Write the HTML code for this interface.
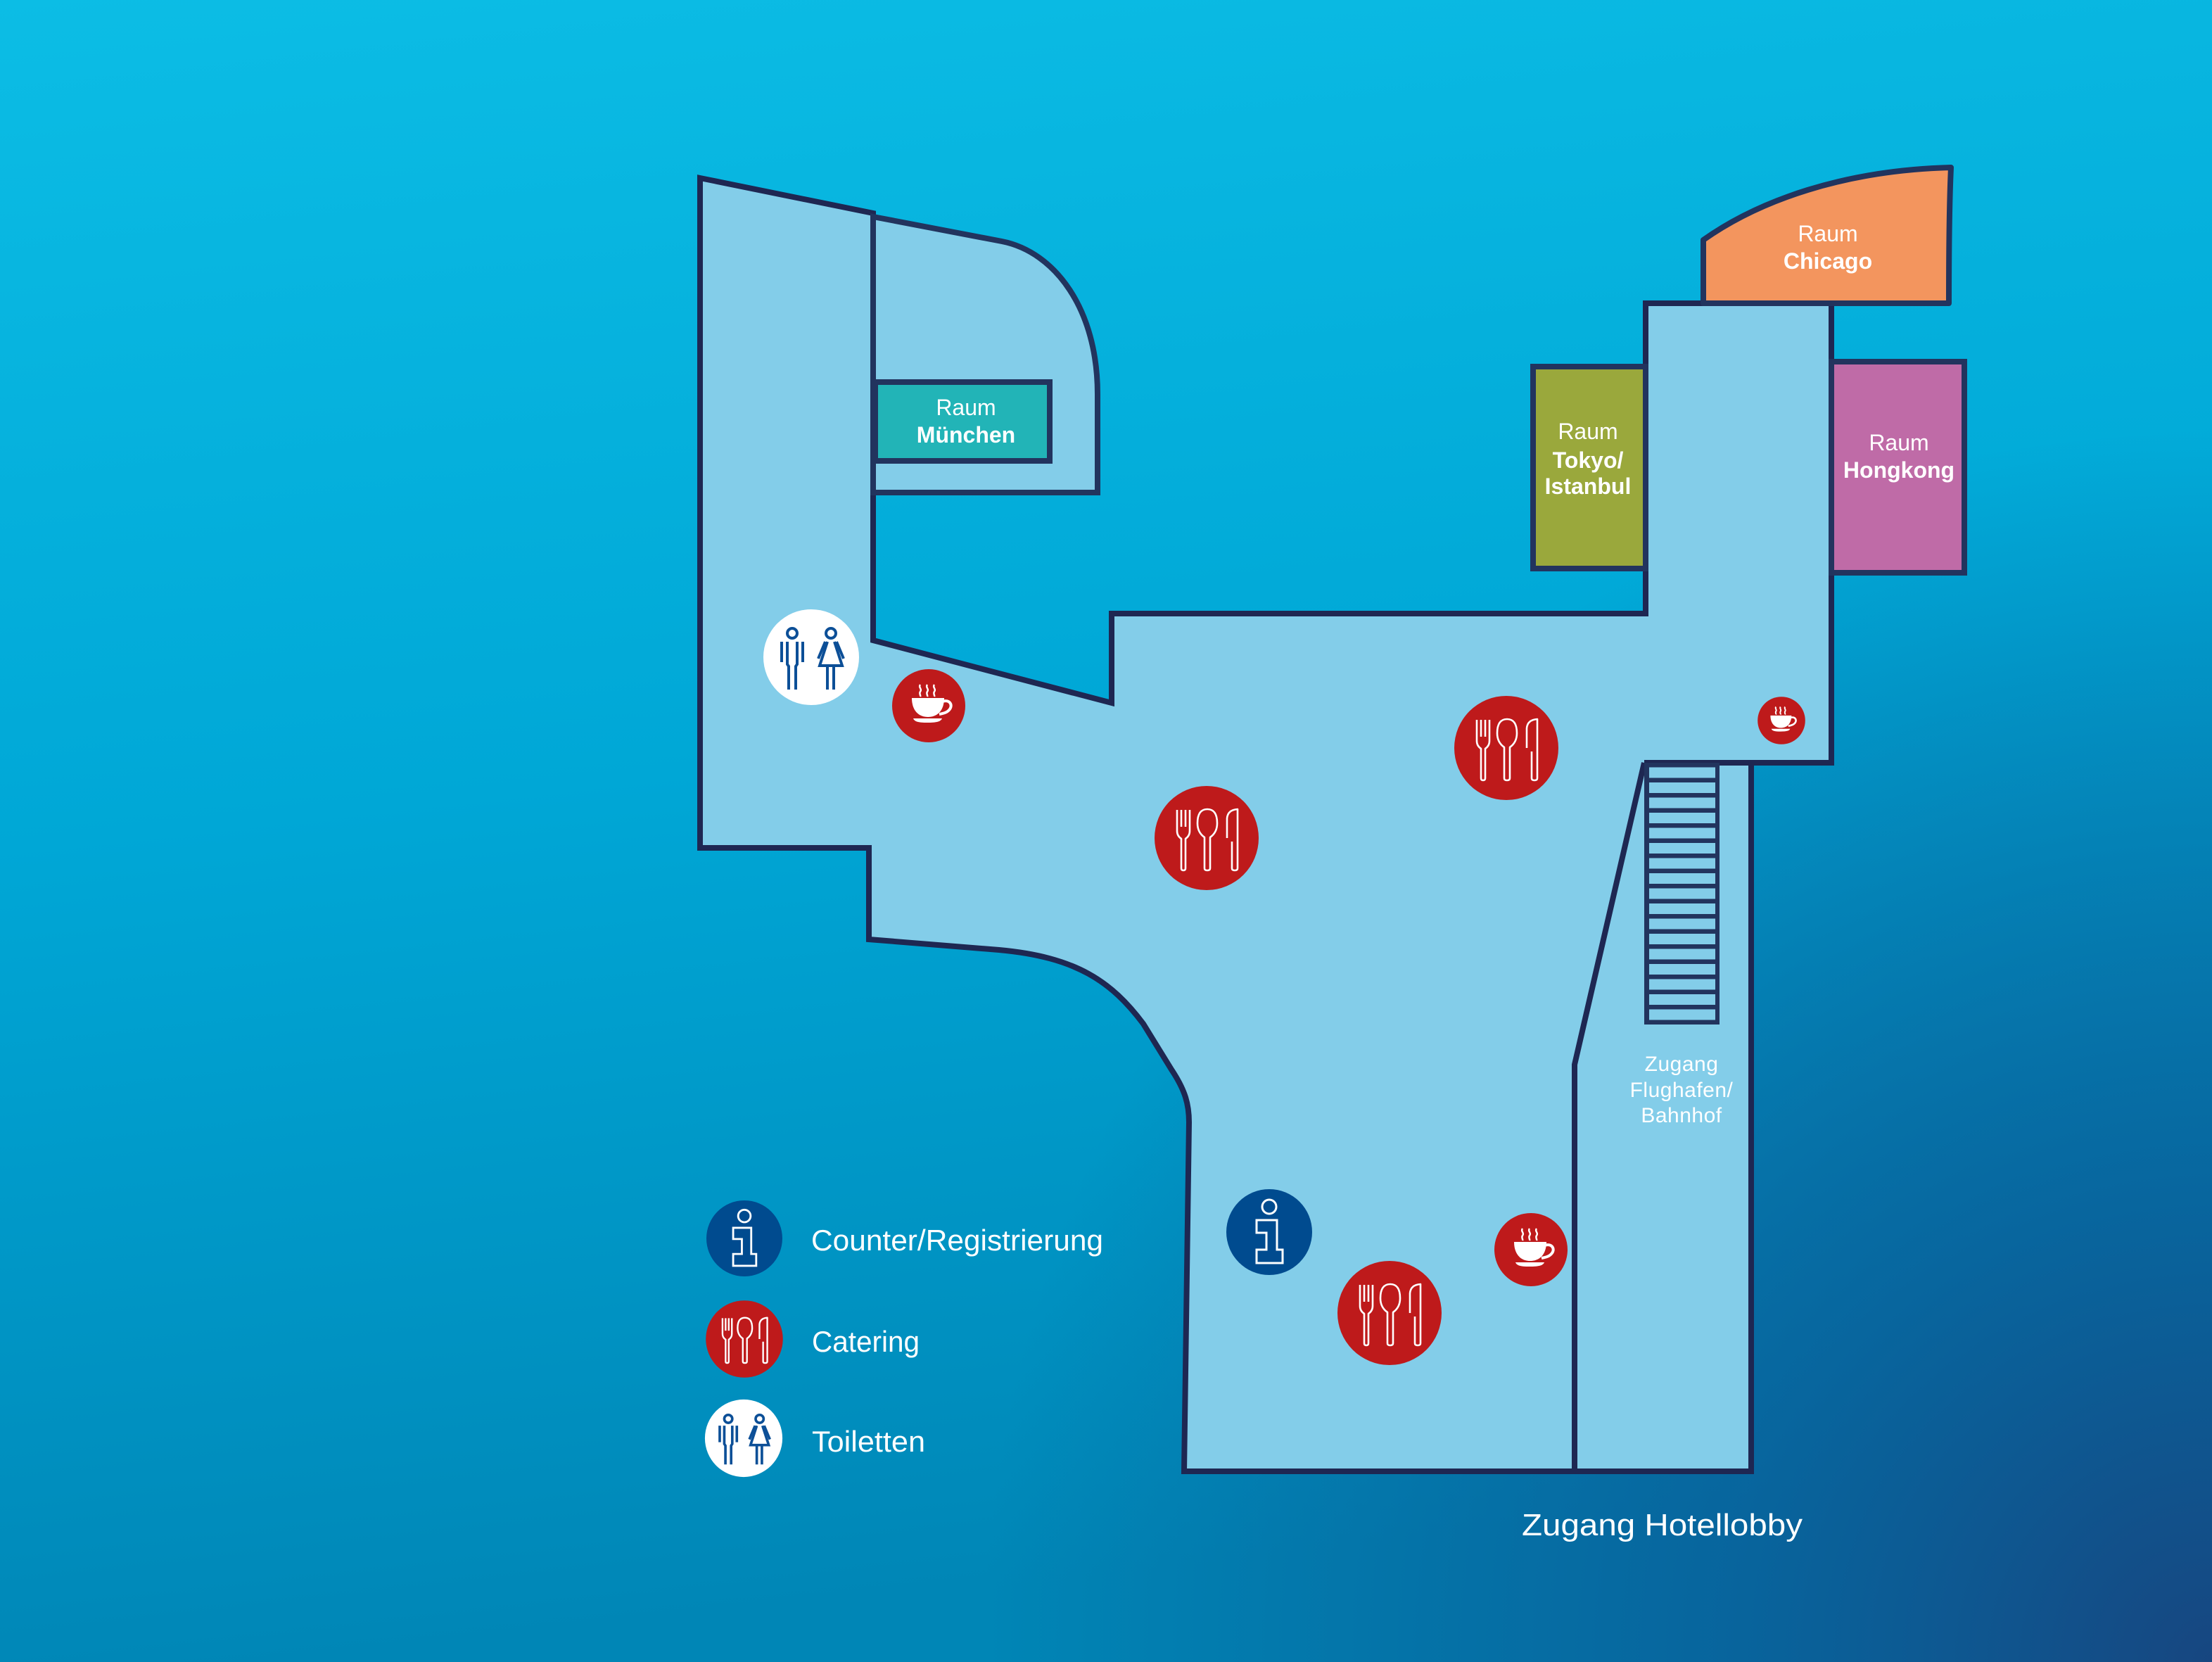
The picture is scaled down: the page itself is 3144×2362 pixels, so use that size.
<!DOCTYPE html>
<html>
<head>
<meta charset="utf-8">
<style>
  html, body { margin: 0; padding: 0; }
  body { width: 3144px; height: 2362px; overflow: hidden; background: #00a7d6; }
  svg { display: block; }
  text { font-family: "Liberation Sans", sans-serif; fill: #ffffff; }
</style>
</head>
<body>
<svg width="3144" height="2362" viewBox="0 0 3144 2362" xmlns="http://www.w3.org/2000/svg">
  <defs>
    <linearGradient id="lin" x1="0" y1="0" x2="0.15" y2="1">
      <stop offset="0" stop-color="#0cbde5"/>
      <stop offset="0.5" stop-color="#00a7d6"/>
      <stop offset="1" stop-color="#0086b6"/>
    </linearGradient>
    <radialGradient id="rad" gradientUnits="userSpaceOnUse" cx="3144" cy="2362" r="1750">
      <stop offset="0" stop-color="#174680" stop-opacity="1"/>
      <stop offset="0.4" stop-color="#0a5a95" stop-opacity="0.75"/>
      <stop offset="1" stop-color="#0a5a95" stop-opacity="0"/>
    </radialGradient>
  </defs>

  <!-- background -->
  <rect x="0" y="0" width="3144" height="2362" fill="url(#lin)"/>
  <rect x="0" y="0" width="3144" height="2362" fill="url(#rad)"/>

  <!-- main floor -->
  <path d="M995,253 L1241,303 L1241,910 L1580,999 L1580,872 L2339,872 L2339,431 L2603,431 L2603,1084 L2489,1084 L2489,2091 L1683,2091 L1690,1595 C1690,1570 1685,1550 1665,1520 L1625,1455 C1580,1395 1530,1360 1420,1350 L1235,1335 L1235,1205 L995,1205 Z"
        fill="#83cde9" stroke="#1e2752" stroke-width="8" stroke-linejoin="miter"/>

  <!-- Muenchen wing -->
  <path d="M1241,308 L1424,343 C1500,358 1560,440 1560,560 L1560,700 L1241,700 Z"
        fill="#83cde9" stroke="#22345e" stroke-width="8"/>
  <rect x="1244" y="543" width="248" height="112" fill="#22b4b7" stroke="#22345e" stroke-width="8"/>

  <!-- interior walls -->
  <path d="M2337,1084 L2238,1513 L2238,2091" fill="none" stroke="#1e2752" stroke-width="8"/>
  <path d="M2337,1084 L2489,1084" fill="none" stroke="#1e2752" stroke-width="8"/>

  <!-- stairs -->
  <rect x="2337" y="1084" width="107" height="372" fill="#22345e"/>
  <g fill="#83cde9">
    <rect x="2344" y="1090.5" width="94" height="15"/>
    <rect x="2344" y="1112" width="94" height="15"/>
    <rect x="2344" y="1133.5" width="94" height="15"/>
    <rect x="2344" y="1155" width="94" height="15"/>
    <rect x="2344" y="1176.5" width="94" height="15"/>
    <rect x="2344" y="1198" width="94" height="15"/>
    <rect x="2344" y="1219.5" width="94" height="15"/>
    <rect x="2344" y="1241" width="94" height="15"/>
    <rect x="2344" y="1262.5" width="94" height="15"/>
    <rect x="2344" y="1284" width="94" height="15"/>
    <rect x="2344" y="1305.5" width="94" height="15"/>
    <rect x="2344" y="1327" width="94" height="15"/>
    <rect x="2344" y="1348.5" width="94" height="15"/>
    <rect x="2344" y="1370" width="94" height="15"/>
    <rect x="2344" y="1391.5" width="94" height="15"/>
    <rect x="2344" y="1413" width="94" height="15"/>
    <rect x="2344" y="1434.5" width="94" height="15"/>
  </g>

  <!-- rooms -->
  <rect x="2179" y="521" width="160" height="287" fill="#9aa83c" stroke="#22345e" stroke-width="8"/>
  <rect x="2603" y="514" width="189" height="300" fill="#bf6ba7" stroke="#22345e" stroke-width="8"/>
  <path d="M2421,431 L2421,341 C2500,285 2620,242 2773,238 C2770,300 2770,380 2770,431 Z"
        fill="#f3955e" stroke="#22345e" stroke-width="8" stroke-linejoin="round"/>

  <!-- room labels -->
  <text x="1373" y="590" font-size="32" text-anchor="middle">Raum</text>
  <text x="1373" y="629" font-size="32" font-weight="bold" text-anchor="middle">München</text>

  <text x="2598" y="343" font-size="32" text-anchor="middle">Raum</text>
  <text x="2598" y="382" font-size="32" font-weight="bold" text-anchor="middle">Chicago</text>

  <text x="2257" y="624" font-size="32" text-anchor="middle">Raum</text>
  <text x="2257" y="665" font-size="32" font-weight="bold" text-anchor="middle">Tokyo/</text>
  <text x="2257" y="702" font-size="32" font-weight="bold" text-anchor="middle">Istanbul</text>

  <text x="2699" y="640" font-size="32" text-anchor="middle">Raum</text>
  <text x="2699" y="679" font-size="32" font-weight="bold" text-anchor="middle">Hongkong</text>

  <text x="2390" y="1522" font-size="30" text-anchor="middle" letter-spacing="0.5">Zugang</text>
  <text x="2390" y="1559" font-size="30" text-anchor="middle" letter-spacing="0.5">Flughafen/</text>
  <text x="2390" y="1595" font-size="30" text-anchor="middle" letter-spacing="0.5">Bahnhof</text>

  <text x="2163" y="2182" font-size="44" textLength="399" lengthAdjust="spacingAndGlyphs">Zugang Hotellobby</text>

  <!-- ========== ICONS ========== -->
  <!-- toilet on map -->
  <g transform="translate(1153,934)">
    <circle cx="0" cy="0" r="68" fill="#ffffff"/>
    <g fill="none" stroke="#0c4f97" stroke-width="4">
      <circle cx="-27" cy="-34" r="7"/>
      <path d="M-42,-22 V7 M-12,-22 V7"/>
      <path d="M-34,-22 V10 L-32,13 V46 M-20,-22 V10 L-22,13 V46"/>
      <circle cx="28" cy="-34" r="7"/>
      <path d="M20,-22 L10,2 M36,-22 L46,2"/>
      <path d="M23,-22 L12,12 H44 L33,-22"/>
      <path d="M23,12 V46 M32,12 V46"/>
    </g>
  </g>

  <!-- coffee 1 -->
  <g transform="translate(1320,1003)">
    <circle cx="0" cy="0" r="52" fill="#be1a1b"/>
    <g fill="#ffffff">
      <path d="M-24,-11 H22 C22,6 13,16 -1,16 C-15,16 -24,6 -24,-11 Z"/>
      <path d="M-22,18 H19 C17,23 10,24 -2,24 C-14,24 -20,23 -22,18 Z"/>
    </g>
    <g fill="none" stroke="#ffffff">
      <path d="M19,-6 C30,-10 36,0 28,7 C25,10 20,11 15,12" stroke-width="4"/>
      <path d="M-12,-30 C-15,-26 -9,-24 -12,-20 C-14,-17 -11,-15 -12,-13" stroke-width="2.5"/>
      <path d="M-2,-30 C-5,-26 1,-24 -2,-20 C-4,-17 -1,-15 -2,-13" stroke-width="2.5"/>
      <path d="M8,-30 C5,-26 11,-24 8,-20 C6,-17 9,-15 8,-13" stroke-width="2.5"/>
    </g>
  </g>

  <!-- coffee small (Hongkong) -->
  <g transform="translate(2532,1024) scale(0.65)">
    <circle cx="0" cy="0" r="52" fill="#be1a1b"/>
    <g fill="#ffffff">
      <path d="M-24,-11 H22 C22,6 13,16 -1,16 C-15,16 -24,6 -24,-11 Z"/>
      <path d="M-22,18 H19 C17,23 10,24 -2,24 C-14,24 -20,23 -22,18 Z"/>
    </g>
    <g fill="none" stroke="#ffffff">
      <path d="M19,-6 C30,-10 36,0 28,7 C25,10 20,11 15,12" stroke-width="4"/>
      <path d="M-12,-30 C-15,-26 -9,-24 -12,-20 C-14,-17 -11,-15 -12,-13" stroke-width="3"/>
      <path d="M-2,-30 C-5,-26 1,-24 -2,-20 C-4,-17 -1,-15 -2,-13" stroke-width="3"/>
      <path d="M8,-30 C5,-26 11,-24 8,-20 C6,-17 9,-15 8,-13" stroke-width="3"/>
    </g>
  </g>

  <!-- coffee 3 -->
  <g transform="translate(2176,1776)">
    <circle cx="0" cy="0" r="52" fill="#be1a1b"/>
    <g fill="#ffffff">
      <path d="M-24,-11 H22 C22,6 13,16 -1,16 C-15,16 -24,6 -24,-11 Z"/>
      <path d="M-22,18 H19 C17,23 10,24 -2,24 C-14,24 -20,23 -22,18 Z"/>
    </g>
    <g fill="none" stroke="#ffffff">
      <path d="M19,-6 C30,-10 36,0 28,7 C25,10 20,11 15,12" stroke-width="4"/>
      <path d="M-12,-30 C-15,-26 -9,-24 -12,-20 C-14,-17 -11,-15 -12,-13" stroke-width="2.5"/>
      <path d="M-2,-30 C-5,-26 1,-24 -2,-20 C-4,-17 -1,-15 -2,-13" stroke-width="2.5"/>
      <path d="M8,-30 C5,-26 11,-24 8,-20 C6,-17 9,-15 8,-13" stroke-width="2.5"/>
    </g>
  </g>

  <!-- catering 1 -->
  <g transform="translate(1715,1191)">
    <circle cx="0" cy="0" r="74" fill="#be1a1b"/>
    <g fill="none" stroke="#ffffff" stroke-width="2.6" stroke-linejoin="round">
      <path d="M-42,-40 V-10 Q-42,-3 -36,1 V43 Q-36,46 -33,46 Q-30,46 -30,43 V1 Q-24,-3 -24,-10 V-40"/>
      <path d="M-36,-40 V-16 M-30,-40 V-16"/>
      <path d="M-3,-1 Q-13,-8 -13,-21 Q-13,-41 1,-41 Q15,-41 15,-21 Q15,-8 5,-1 V43 Q5,46 1,46 Q-3,46 -3,43 Z"/>
      <path d="M29,0 V-28 Q30,-40 44,-41 V43 Q44,46 40,46 Q36,46 36,43 V5"/>
    </g>
  </g>

  <!-- catering 2 -->
  <g transform="translate(2141,1063)">
    <circle cx="0" cy="0" r="74" fill="#be1a1b"/>
    <g fill="none" stroke="#ffffff" stroke-width="2.6" stroke-linejoin="round">
      <path d="M-42,-40 V-10 Q-42,-3 -36,1 V43 Q-36,46 -33,46 Q-30,46 -30,43 V1 Q-24,-3 -24,-10 V-40"/>
      <path d="M-36,-40 V-16 M-30,-40 V-16"/>
      <path d="M-3,-1 Q-13,-8 -13,-21 Q-13,-41 1,-41 Q15,-41 15,-21 Q15,-8 5,-1 V43 Q5,46 1,46 Q-3,46 -3,43 Z"/>
      <path d="M29,0 V-28 Q30,-40 44,-41 V43 Q44,46 40,46 Q36,46 36,43 V5"/>
    </g>
  </g>

  <!-- catering 3 -->
  <g transform="translate(1975,1866)">
    <circle cx="0" cy="0" r="74" fill="#be1a1b"/>
    <g fill="none" stroke="#ffffff" stroke-width="2.6" stroke-linejoin="round">
      <path d="M-42,-40 V-10 Q-42,-3 -36,1 V43 Q-36,46 -33,46 Q-30,46 -30,43 V1 Q-24,-3 -24,-10 V-40"/>
      <path d="M-36,-40 V-16 M-30,-40 V-16"/>
      <path d="M-3,-1 Q-13,-8 -13,-21 Q-13,-41 1,-41 Q15,-41 15,-21 Q15,-8 5,-1 V43 Q5,46 1,46 Q-3,46 -3,43 Z"/>
      <path d="M29,0 V-28 Q30,-40 44,-41 V43 Q44,46 40,46 Q36,46 36,43 V5"/>
    </g>
  </g>

  <!-- info on map -->
  <g transform="translate(1804,1751)">
    <circle cx="0" cy="0" r="61" fill="#004b8f"/>
    <g fill="none" stroke="#ffffff" stroke-width="3">
      <circle cx="0" cy="-36" r="10"/>
      <path d="M-18,-17 H11 V25 H19 V44 H-18 V25 H-4 V1 H-18 Z"/>
    </g>
  </g>

  <!-- ========== LEGEND ========== -->
  <g transform="translate(1058,1760) scale(0.885)">
    <circle cx="0" cy="0" r="61" fill="#004b8f"/>
    <g fill="none" stroke="#ffffff" stroke-width="3.2">
      <circle cx="0" cy="-36" r="10"/>
      <path d="M-18,-17 H11 V25 H19 V44 H-18 V25 H-4 V1 H-18 Z"/>
    </g>
  </g>

  <g transform="translate(1058,1903) scale(0.74)">
    <circle cx="0" cy="0" r="74" fill="#be1a1b"/>
    <g fill="none" stroke="#ffffff" stroke-width="3.2" stroke-linejoin="round">
      <path d="M-42,-40 V-10 Q-42,-3 -36,1 V43 Q-36,46 -33,46 Q-30,46 -30,43 V1 Q-24,-3 -24,-10 V-40"/>
      <path d="M-36,-40 V-16 M-30,-40 V-16"/>
      <path d="M-3,-1 Q-13,-8 -13,-21 Q-13,-41 1,-41 Q15,-41 15,-21 Q15,-8 5,-1 V43 Q5,46 1,46 Q-3,46 -3,43 Z"/>
      <path d="M29,0 V-28 Q30,-40 44,-41 V43 Q44,46 40,46 Q36,46 36,43 V5"/>
    </g>
  </g>

  <g transform="translate(1057,2044) scale(0.81)">
    <circle cx="0" cy="0" r="68" fill="#ffffff"/>
    <g fill="none" stroke="#0c4f97" stroke-width="4.5">
      <circle cx="-27" cy="-34" r="7"/>
      <path d="M-42,-22 V7 M-12,-22 V7"/>
      <path d="M-34,-22 V10 L-32,13 V46 M-20,-22 V10 L-22,13 V46"/>
      <circle cx="28" cy="-34" r="7"/>
      <path d="M20,-22 L10,2 M36,-22 L46,2"/>
      <path d="M23,-22 L12,12 H44 L33,-22"/>
      <path d="M23,12 V46 M32,12 V46"/>
    </g>
  </g>

  <text x="1153" y="1777" font-size="42" textLength="415" lengthAdjust="spacingAndGlyphs">Counter/Registrierung</text>
  <text x="1154" y="1921" font-size="42" textLength="153" lengthAdjust="spacingAndGlyphs">Catering</text>
  <text x="1154" y="2063" font-size="42" textLength="161" lengthAdjust="spacingAndGlyphs">Toiletten</text>
</svg>
</body>
</html>
